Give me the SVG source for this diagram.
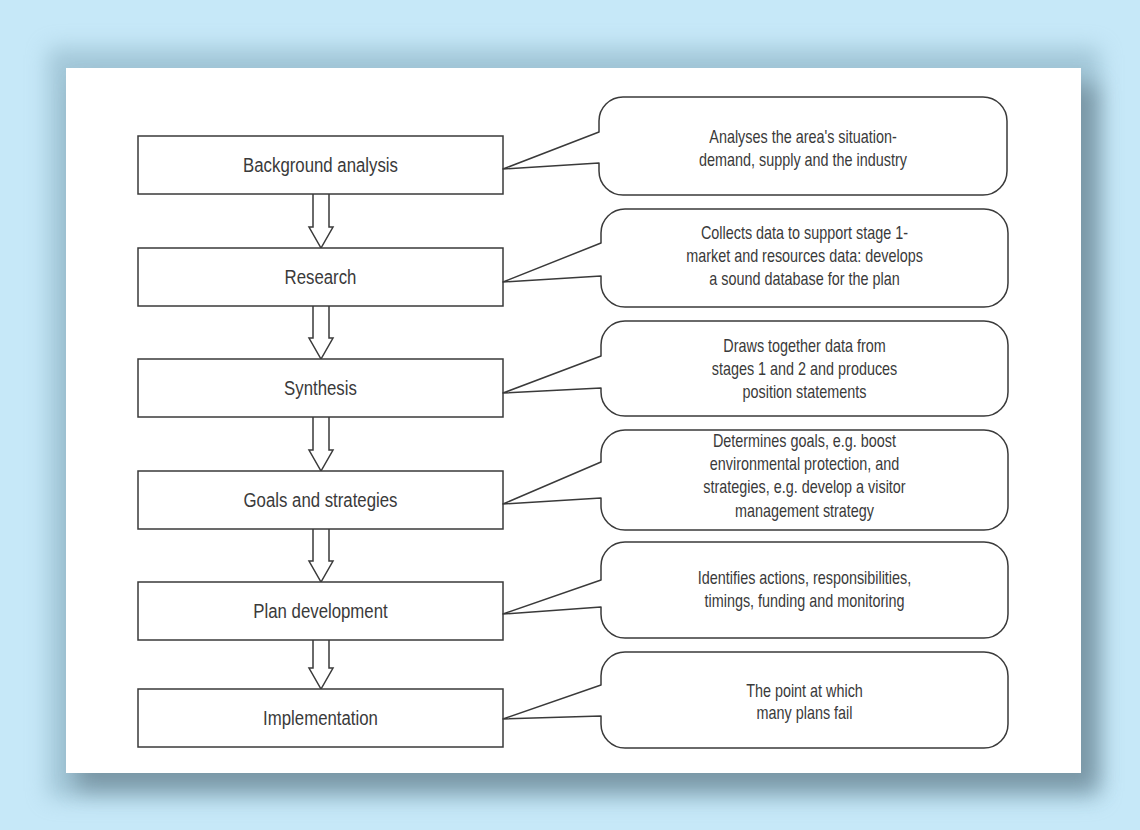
<svg xmlns="http://www.w3.org/2000/svg" width="1140" height="830" viewBox="0 0 1140 830">
  <defs>
    <filter id="soft" x="-10%" y="-10%" width="120%" height="120%">
      <feGaussianBlur stdDeviation="11"/>
    </filter>
    <style>
      .box { fill: #ffffff; stroke: #3a3a3a; stroke-width: 1.5; }
      .call { fill: #ffffff; stroke: #3a3a3a; stroke-width: 1.5; stroke-linejoin: round; }
      .arrow { fill: #ffffff; stroke: #3a3a3a; stroke-width: 1.5; stroke-linejoin: miter; }
      .lbl { font-family: "Liberation Sans", Arial, sans-serif; fill: #3a3a3a; text-anchor: middle; }
      .big { font-size: 21px; }
      .small { font-size: 18px; }
    </style>
  </defs>

  <!-- page background -->
  <rect x="0" y="0" width="1140" height="830" fill="#c6e8f8"/>

  <!-- panel shadow -->
  <rect x="48" y="48" width="1052" height="750" fill="#7fa6b8" opacity="0.5" filter="url(#soft)"/>
  <rect x="76" y="84" width="1022" height="706" fill="#5d7683" opacity="0.6" filter="url(#soft)"/>

  <!-- white panel -->
  <rect x="66" y="68" width="1015" height="705" fill="#ffffff"/>

  <!-- flow connectors: hollow block arrows between stages -->
  <g id="connectors">
    <path class="arrow" d="M313,194 V227 H309 L321,248 L333,227 H329 V194"/>
    <path class="arrow" d="M313,306 V338 H309 L321,359 L333,338 H329 V306"/>
    <path class="arrow" d="M313,417 V450 H309 L321,471 L333,450 H329 V417"/>
    <path class="arrow" d="M313,529 V561 H309 L321,582 L333,561 H329 V529"/>
    <path class="arrow" d="M313,640 V668 H309 L321,689 L333,668 H329 V640"/>
  </g>

  <!-- stage 1 -->
  <g id="stage-background-analysis">
    <rect class="box" x="138" y="136" width="365" height="58"/>
    <text class="lbl big" transform="translate(320.5 172) scale(0.8 1)">Background analysis</text>
  </g>
  <g id="note-background-analysis">
    <path class="call" d="M623,97 H983 A24,24 0 0 1 1007,121 V171 A24,24 0 0 1 983,195 H623 A24,24 0 0 1 599,171 V163 L503,169 L599,132 V121 A24,24 0 0 1 623,97 Z"/>
    <text class="lbl small" transform="translate(803 143) scale(0.8 1)">Analyses the area's situation-</text>
    <text class="lbl small" transform="translate(803 166) scale(0.8 1)">demand, supply and the industry</text>
  </g>

  <!-- stage 2 -->
  <g id="stage-research">
    <rect class="box" x="138" y="248" width="365" height="58"/>
    <text class="lbl big" transform="translate(320.5 284) scale(0.8 1)">Research</text>
  </g>
  <g id="note-research">
    <path class="call" d="M625,209 H984 A24,24 0 0 1 1008,233 V283 A24,24 0 0 1 984,307 H625 A24,24 0 0 1 601,283 V276 L503,282 L601,243 V233 A24,24 0 0 1 625,209 Z"/>
    <text class="lbl small" transform="translate(804.5 239) scale(0.8 1)">Collects data to support stage 1-</text>
    <text class="lbl small" transform="translate(804.5 262) scale(0.8 1)">market and resources data: develops</text>
    <text class="lbl small" transform="translate(804.5 285) scale(0.8 1)">a sound database for the plan</text>
  </g>

  <!-- stage 3 -->
  <g id="stage-synthesis">
    <rect class="box" x="138" y="359" width="365" height="58"/>
    <text class="lbl big" transform="translate(320.5 395) scale(0.8 1)">Synthesis</text>
  </g>
  <g id="note-synthesis">
    <path class="call" d="M625,321 H984 A24,24 0 0 1 1008,345 V392 A24,24 0 0 1 984,416 H625 A24,24 0 0 1 601,392 V388 L503,393 L601,356 V345 A24,24 0 0 1 625,321 Z"/>
    <text class="lbl small" transform="translate(804.5 352) scale(0.8 1)">Draws together data from</text>
    <text class="lbl small" transform="translate(804.5 375) scale(0.8 1)">stages 1 and 2 and produces</text>
    <text class="lbl small" transform="translate(804.5 398) scale(0.8 1)">position statements</text>
  </g>

  <!-- stage 4 -->
  <g id="stage-goals">
    <rect class="box" x="138" y="471" width="365" height="58"/>
    <text class="lbl big" transform="translate(320.5 507) scale(0.8 1)">Goals and strategies</text>
  </g>
  <g id="note-goals">
    <path class="call" d="M625,430 H984 A24,24 0 0 1 1008,454 V506 A24,24 0 0 1 984,530 H625 A24,24 0 0 1 601,506 V498 L503,504 L601,462 V454 A24,24 0 0 1 625,430 Z"/>
    <text class="lbl small" transform="translate(804.5 447) scale(0.8 1)">Determines goals, e.g. boost</text>
    <text class="lbl small" transform="translate(804.5 470) scale(0.8 1)">environmental protection, and</text>
    <text class="lbl small" transform="translate(804.5 493) scale(0.8 1)">strategies, e.g. develop a visitor</text>
    <text class="lbl small" transform="translate(804.5 517) scale(0.8 1)">management strategy</text>
  </g>

  <!-- stage 5 -->
  <g id="stage-plan">
    <rect class="box" x="138" y="582" width="365" height="58"/>
    <text class="lbl big" transform="translate(320.5 618) scale(0.8 1)">Plan development</text>
  </g>
  <g id="note-plan">
    <path class="call" d="M625,542 H984 A24,24 0 0 1 1008,566 V614 A24,24 0 0 1 984,638 H625 A24,24 0 0 1 601,614 V607 L503,614 L601,580 V566 A24,24 0 0 1 625,542 Z"/>
    <text class="lbl small" transform="translate(804.5 584) scale(0.8 1)">Identifies actions, responsibilities,</text>
    <text class="lbl small" transform="translate(804.5 607) scale(0.8 1)">timings, funding and monitoring</text>
  </g>

  <!-- stage 6 -->
  <g id="stage-implementation">
    <rect class="box" x="138" y="689" width="365" height="58"/>
    <text class="lbl big" transform="translate(320.5 725) scale(0.8 1)">Implementation</text>
  </g>
  <g id="note-implementation">
    <path class="call" d="M625,652 H984 A24,24 0 0 1 1008,676 V724 A24,24 0 0 1 984,748 H625 A24,24 0 0 1 601,724 V716 L503,719 L601,685 V676 A24,24 0 0 1 625,652 Z"/>
    <text class="lbl small" transform="translate(804.5 697) scale(0.8 1)">The point at which</text>
    <text class="lbl small" transform="translate(804.5 719) scale(0.8 1)">many plans fail</text>
  </g>
</svg>
